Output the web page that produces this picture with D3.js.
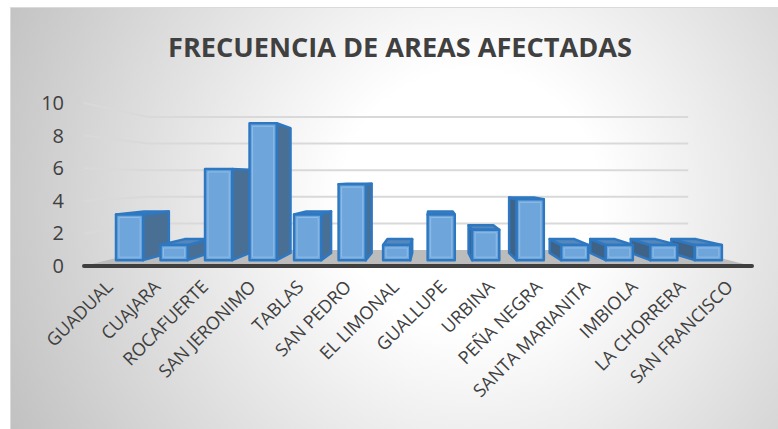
<!DOCTYPE html>
<html>
<head>
<meta charset="utf-8">
<script src="https://cdn.jsdelivr.net/npm/d3@7/dist/d3.min.js"></script>
<style>
  html, body { margin: 0; padding: 0; background: #ffffff; }
  svg { display: block; }
</style>
</head>
<body>
<svg id="chart" width="778" height="429"></svg>
<script>
const title = "FRECUENCIA DE AREAS AFECTADAS";
const categories = ["GUADUAL", "CUAJARA", "ROCAFUERTE", "SAN JERONIMO", "TABLAS", "SAN PEDRO", "EL LIMONAL", "GUALLUPE", "URBINA", "PEÑA NEGRA", "SANTA MARIANITA", "IMBIOLA", "LA CHORRERA", "SAN FRANCISCO"];
const values = [3, 1, 6, 9, 3, 5, 1, 3, 2, 4, 1, 1, 1, 1];
const yTicks = [0, 2, 4, 6, 8, 10];

const W = 778, H = 429;
const svg = d3.select("#chart");
const defs = svg.append("defs");

// perspective setup
const VX = 432, VY = 179;           // vanishing point
const S_WALL = 0.816;               // back wall depth factor
const S_FRONT = 0.933, S_BACK = 0.85; // bar front / back depth factors
const proj = (X, Y, s) => [VX + s * (X - VX), VY + s * (Y - VY)];

const x = d3.scaleBand().domain(categories).range([84, 752]).paddingInner(0.39).paddingOuter(0.195);
const y = d3.scaleLinear().domain([0, 10]).range([266, 103]);
const wallX0 = 84, wallX1 = 746;

// background
const grad = defs.append("radialGradient").attr("id", "bg")
  .attr("gradientUnits", "userSpaceOnUse").attr("cx", 470).attr("cy", 200).attr("r", 520);
grad.append("stop").attr("offset", 0).attr("stop-color", "#ffffff");
grad.append("stop").attr("offset", 0.25).attr("stop-color", "#ffffff");
grad.append("stop").attr("offset", 1).attr("stop-color", "#c0c0c0");
svg.append("rect").attr("x", 0).attr("y", 0).attr("width", W).attr("height", H).attr("fill", "#ffffff");
svg.append("rect").attr("x", 10.5).attr("y", 7.5).attr("width", W - 10).attr("height", H - 7)
  .attr("fill", "url(#bg)").attr("stroke", "#dadada").attr("stroke-width", 1);

// title
const t = svg.append("text").attr("x", 400).attr("y", 57).attr("text-anchor", "middle")
  .attr("font-family", "'Open Sans', sans-serif").attr("font-weight", "bold")
  .attr("font-size", 26).attr("fill", "#404040").text(title);
const tw = t.node().getComputedTextLength();
t.attr("font-size", 26 * 464 / tw);

const line = d3.line();

// floor
const floorPts = [proj(wallX0, y(0), 1), proj(wallX1 + 6, y(0), 1), proj(wallX1, y(0), S_WALL), proj(wallX0, y(0), S_WALL)];
svg.append("path").attr("d", line(floorPts) + "Z").attr("fill", "#bcbcbc");

// gridlines (left wall + back wall)
svg.append("g").selectAll("path").data(yTicks.filter(v => v > 0)).join("path")
  .attr("d", v => line([proj(wallX0, y(v), 1), proj(wallX0, y(v), S_WALL), proj(wallX1, y(v), S_WALL)]))
  .attr("fill", "none").attr("stroke", "#d9d9d9").attr("stroke-width", 2);

// axis baseline
svg.append("path").attr("d", line([proj(wallX0, y(0), 1), proj(752, y(0), 1)]))
  .attr("stroke", "#3f3f3f").attr("stroke-width", 4).attr("stroke-linecap", "round").attr("fill", "none");

// y tick labels
svg.append("g").selectAll("text").data(yTicks).join("text")
  .attr("x", 64).attr("y", v => y(v)).attr("dy", "0.35em").attr("text-anchor", "end")
  .attr("font-family", "'Open Sans', sans-serif").attr("font-size", 20).attr("fill", "#404040")
  .text(d => d);

// bars
const bars = categories.map((c, i) => ({ c, v: values[i], X0: x(c), X1: x(c) + x.bandwidth() }));
bars.sort((a, b) => Math.abs((b.X0 + b.X1) / 2 - VX) - Math.abs((a.X0 + a.X1) / 2 - VX));
const gBars = svg.append("g");
const stroke = "#2e78c2";
bars.forEach(b => {
  const Yt = y(b.v), Yb = y(0);
  const F = (X, Y) => proj(X, Y, S_FRONT), B = (X, Y) => proj(X, Y, S_BACK);
  const g = gBars.append("g").attr("stroke", stroke).attr("stroke-width", 2.5).attr("stroke-linejoin", "round");
  if (b.X1 < VX) {
    g.append("path").attr("d", line([F(b.X1, Yt), B(b.X1, Yt), B(b.X1, Yb), F(b.X1, Yb)]) + "Z").attr("fill", "#4a6f94");
  } else if (b.X0 > VX) {
    g.append("path").attr("d", line([F(b.X0, Yt), B(b.X0, Yt), B(b.X0, Yb), F(b.X0, Yb)]) + "Z").attr("fill", "#3f6387");
  }
  if (Yt > VY) {
    g.append("path").attr("d", line([F(b.X0, Yt), F(b.X1, Yt), B(b.X1, Yt), B(b.X0, Yt)]) + "Z").attr("fill", "#5487bb");
  }
  const f0 = F(b.X0, Yt), f1 = F(b.X1, Yb);
  g.append("rect").attr("x", f0[0]).attr("y", f0[1]).attr("width", f1[0] - f0[0]).attr("height", f1[1] - f0[1])
    .attr("fill", "#6ea6dc");
  g.append("rect").attr("x", f0[0] + 3).attr("y", f0[1] + 3).attr("width", Math.max(0, f1[0] - f0[0] - 6)).attr("height", Math.max(0, f1[1] - f0[1] - 6))
    .attr("fill", "none").attr("stroke", "#8fbce6").attr("stroke-width", 1);
});

// category labels
svg.append("g").selectAll("text").data(categories).join("text")
  .attr("transform", c => { const p = proj(x(c) + x.bandwidth() / 2, y(0), 1); return `translate(${p[0] + 6},${p[1] + 22}) rotate(-45)`; })
  .attr("text-anchor", "end")
  .attr("font-family", "'Open Sans', sans-serif").attr("font-size", 18).attr("fill", "#404040")
  .text(c => c);
</script>
</body>
</html>
